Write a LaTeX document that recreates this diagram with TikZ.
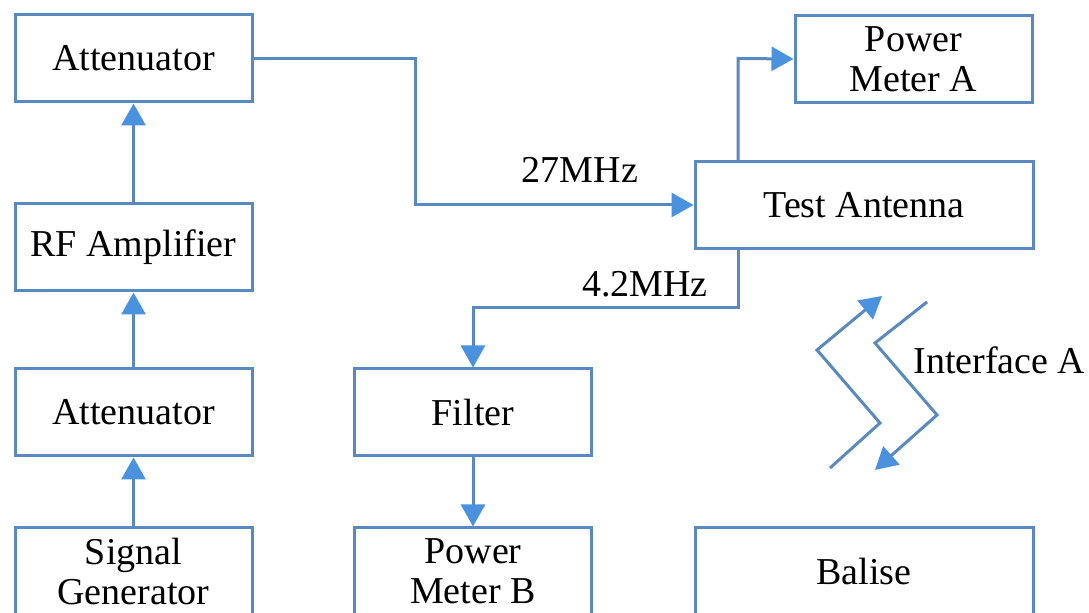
\documentclass[tikz,border=0pt]{standalone}
\usepackage{fontspec}
\setmainfont{Liberation Serif}
\usetikzlibrary{arrows.meta}
\definecolor{setupLine}{HTML}{5A89BF}
\definecolor{setupTip}{HTML}{4A92DD}
\tikzset{
  setupBox/.style={
    draw=setupLine,
    line width=1.5pt,
    fill=white,
    minimum width=118.5pt,
    minimum height=43.5pt,
    align=center,
    inner sep=2pt,
    font=\fontsize{19}{20}\selectfont
  },
  wideBox/.style={setupBox, minimum width=169pt},
  setupArrow/.style={
    setupLine,
    line width=1.5pt,
    -{Triangle[length=11pt, width=12pt, color=setupTip, fill=setupTip]}
  },
  freqLabel/.style={font=\fontsize{19}{20}\selectfont, inner sep=1pt}
}

\begin{document}
\begin{tikzpicture}[x=0.5pt,y=-0.5pt]
  \useasboundingbox (0,0) rectangle (1089,613);

  % transmit chain
  \node[setupBox] (att1)   at (133.5,58.5)  {Attenuator};
  \node[setupBox] (rfamp)  at (133.5,247.5) {RF Amplifier};
  \node[setupBox] (att2)   at (133.5,412.5) {Attenuator};
  \node[setupBox] (siggen) at (133.5,571.5) {Signal\\Generator};

  % receive chain
  \node[setupBox] (filter) at (473,412.5) {Filter};
  \node[setupBox] (pmb)    at (473,571.5) {Power\\Meter B};

  \node[wideBox]  (ant)    at (864,205)   {Test Antenna};
  \node[setupBox] (pma)    at (913.5,59)  {Power\\Meter A};
  \node[wideBox]  (balise) at (864,571.5) {Balise};

  \draw[setupArrow] (siggen) -- (att2);
  \draw[setupArrow] (att2) -- (rfamp);
  \draw[setupArrow] (rfamp) -- (att1);

  \coordinate (bend27) at (415,205);
  \draw[setupArrow] (att1.east) -- (att1.east -| bend27) |- (ant.west);
  \node[freqLabel] (lbl27) at (580,170) {27MHz};

  \coordinate (tapA) at (738,58.5);
  \draw[setupArrow] (ant.north -| tapA) -- (tapA) -- (pma.west);

  \coordinate (tapB) at (738,308);
  \draw[setupArrow] (ant.south -| tapB) -- (tapB) -| (filter.north);
  \node[freqLabel] (lbl42) at (645,284) {4.2MHz};

  \draw[setupArrow] (filter) -- (pmb);

  % air gap
  \coordinate (up0) at (830,468);
  \coordinate (up1) at (880,423);
  \coordinate (up2) at (817,350);
  \coordinate (up3) at (882,296);
  \coordinate (dn0) at (927,302);
  \coordinate (dn1) at (875,343);
  \coordinate (dn2) at (937,415);
  \coordinate (dn3) at (875,470);
  \draw[setupArrow] (up0) -- (up1) -- (up2) -- (up3);
  \draw[setupArrow] (dn0) -- (dn1) -- (dn2) -- (dn3);
  \node[freqLabel, anchor=west] (iface) at (911,360) {Interface A};
\end{tikzpicture}
\end{document}
